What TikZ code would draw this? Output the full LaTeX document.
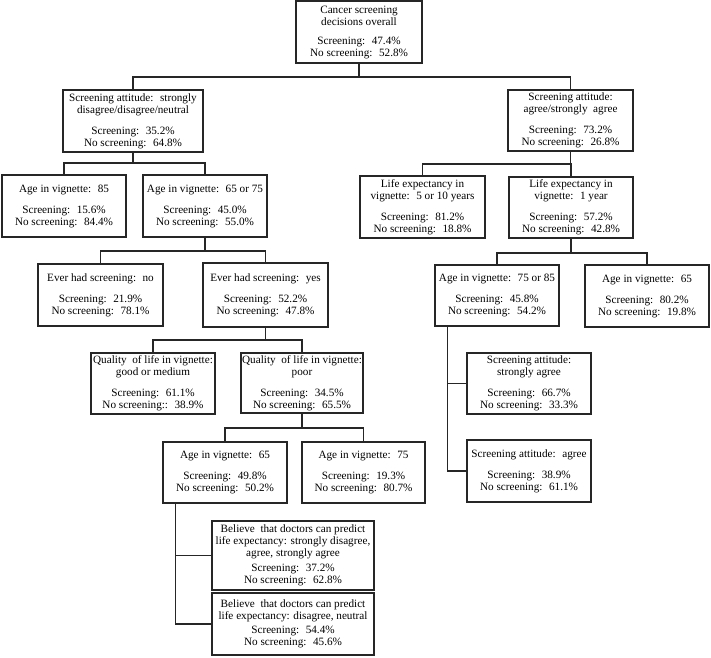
\documentclass[tikz,border=0pt]{standalone}
\usepackage{fontspec}
\setmainfont{Liberation Serif}
\begin{document}
\begin{tikzpicture}[x=1pt,y=-1pt,
  box/.style={draw=black!85, line width=1.1pt, align=center, inner sep=1pt,
    font=\fontsize{11.2}{12}\selectfont},
  link/.style={draw=black!85, line width=1.2pt}]
\useasboundingbox (0,0) rectangle (711,657);
\newcommand\mybox[6]{%
  \node[box, minimum width={(#4-#2)*1pt}, minimum height={(#5-#3)*1pt}]
    (#1) at ({(#2+#4)/2},{(#3+#5)/2}) {#6};}
\def\gp{\\[9pt]}
\mybox{root}{296}{1}{422}{63}{Cancer screening\\decisions overall\\[7pt]Screening:~ 47.4\%\\No screening:~ 52.8\%}
\mybox{L1}{63}{90}{203}{152}{Screening attitude:~ strongly\\disagree/disagree/neutral\gp Screening:~ 35.2\%\\No screening:~ 64.8\%}
\mybox{R1}{508}{90}{633}{151}{Screening attitude:\\agree/strongly~ agree\gp Screening:~ 73.2\%\\No screening:~ 26.8\%}
\mybox{A85}{2}{175}{126}{237}{Age in vignette:~ 85\gp Screening:~ 15.6\%\\No screening:~ 84.4\%}
\mybox{A6575}{143}{175}{267}{237}{Age in vignette:~ 65 or 75\gp Screening:~ 45.0\%\\No screening:~ 55.0\%}
\mybox{LE5}{360}{176}{485}{238}{Life expectancy in\\vignette:~ 5 or 10 years\gp Screening:~ 81.2\%\\No screening:~ 18.8\%}
\mybox{LE1}{509}{177}{633}{238}{Life expectancy in\\vignette:~ 1 year\gp Screening:~ 57.2\%\\No screening:~ 42.8\%}
\mybox{EN}{38}{264}{163}{326}{Ever had screening:~ no\gp Screening:~ 21.9\%\\No screening:~ 78.1\%}
\mybox{EY}{203}{263}{328}{327}{Ever had screening:~ yes\gp Screening:~ 52.2\%\\No screening:~ 47.8\%}
\mybox{A7585}{435}{265}{559}{326}{Age in vignette:~ 75 or 85\gp Screening:~ 45.8\%\\No screening:~ 54.2\%}
\mybox{A65r}{585}{265}{709}{327}{Age in vignette:~ 65\gp Screening:~ 80.2\%\\No screening:~ 19.8\%}
\mybox{QG}{91}{353}{215}{414}{Quality~ of life in vignette:\\good or medium\gp Screening:~ 61.1\%\\No screening::~ 38.9\%}
\mybox{QP}{241}{353}{363}{413}{Quality~ of life in vignette:\\poor\gp Screening:~ 34.5\%\\No screening:~ 65.5\%}
\mybox{SAsa}{467}{353}{591}{414}{Screening attitude:\\strongly agree\gp Screening:~ 66.7\%\\No screening:~ 33.3\%}
\mybox{A65}{163}{442}{287}{503}{Age in vignette:~ 65\gp Screening:~ 49.8\%\\No screening:~ 50.2\%}
\mybox{A75}{302}{442}{425}{503}{Age in vignette:~ 75\gp Screening:~ 19.3\%\\No screening:~ 80.7\%}
\mybox{SAa}{467}{440}{591}{502}{Screening attitude:~ agree\gp Screening:~ 38.9\%\\No screening:~ 61.1\%}
\mybox{B1}{212}{521}{374}{590}{Believe~ that doctors can predict\\life expectancy: strongly disagree,\\agree, strongly agree\\[2.5pt]Screening:~ 37.2\%\\No screening:~ 62.8\%}
\mybox{B2}{212}{593}{374}{655}{Believe~ that doctors can predict\\life expectancy: disagree, neutral\\[2.5pt]Screening:~ 54.4\%\\No screening:~ 45.6\%}
% connectors
\draw[link] (root.south) -- (root.south |- 0,77);
\draw[link] (L1.north) |- (root.south |- 0,77) -| (R1.north);
\draw[link] (L1.south) -- (L1.south |- 0,163);
\draw[link] (A85.north) |- (L1.south |- 0,163) -| (A6575.north);
\draw[link] (R1.south) -- (R1.south |- 0,164);
\draw[link] (LE5.north) |- (R1.south |- 0,164) -| (LE1.north);
\draw[link] (A6575.south) -- (A6575.south |- 0,251);
\draw[link] (EN.north) |- (A6575.south |- 0,251) -| (EY.north);
\draw[link] (LE1.south) -- (LE1.south |- 0,253);
\draw[link] (A7585.north) |- (LE1.south |- 0,253) -| (A65r.north);
\draw[link] (EY.south) -- (EY.south |- 0,340);
\draw[link] (QG.north) |- (EY.south |- 0,340) -| (QP.north);
\draw[link] (QP.south) -- (QP.south |- 0,428);
\draw[link] (A65.north) |- (QP.south |- 0,428) -| (A75.north);
\draw[link] ([xshift=13pt]A7585.south west) |- (SAa.west);
\draw[link] ([xshift=13pt]A7585.south west) |- (SAsa.west);
\draw[link] ([xshift=13pt]A65.south west) |- (B2.west);
\draw[link] ([xshift=13pt]A65.south west) |- (B1.west);
\end{tikzpicture}
\end{document}
